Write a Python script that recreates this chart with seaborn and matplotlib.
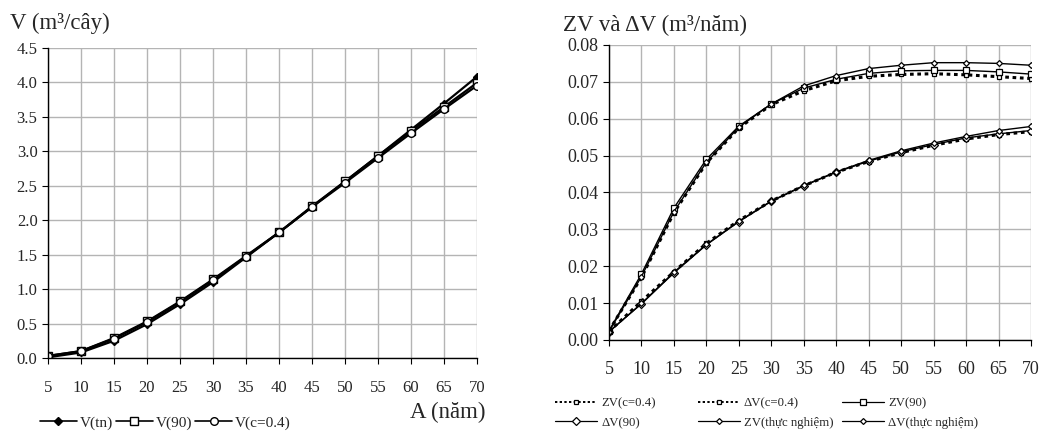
import numpy as np
import pandas as pd
import matplotlib
matplotlib.use("Agg")
import matplotlib.pyplot as plt
import seaborn as sns
from matplotlib.lines import Line2D

sns.set_theme(style="white")
plt.rcParams['font.family'] = ['Liberation Serif', 'DejaVu Serif']

# ---------------- data ----------------
ages = [5, 10, 15, 20, 25, 30, 35, 40, 45, 50, 55, 60, 65, 70]

v_tn = [0.01, 0.08, 0.25, 0.49, 0.78, 1.10, 1.46, 1.82, 2.19, 2.56, 2.93, 3.31, 3.69, 4.08]
v_90 = [0.03, 0.10, 0.29, 0.53, 0.82, 1.14, 1.48, 1.82, 2.20, 2.56, 2.93, 3.29, 3.64, 3.99]
v_c04 = [0.03, 0.10, 0.28, 0.52, 0.81, 1.13, 1.47, 1.82, 2.19, 2.54, 2.90, 3.26, 3.61, 3.95]

zv_c04 = [0.0025, 0.0170, 0.0345, 0.0480, 0.0575, 0.0638, 0.0676, 0.0703, 0.0715, 0.0720, 0.0722, 0.0719, 0.0714, 0.0709]
dv_c04 = [0.0023, 0.0105, 0.0185, 0.0262, 0.0324, 0.0377, 0.0418, 0.0455, 0.0484, 0.0508, 0.0528, 0.0545, 0.0557, 0.0565]
zv_90 = [0.0025, 0.0179, 0.0358, 0.0490, 0.0580, 0.0640, 0.0683, 0.0707, 0.0723, 0.0730, 0.0731, 0.0731, 0.0727, 0.0721]
dv_90 = [0.0023, 0.0098, 0.0182, 0.0258, 0.0321, 0.0376, 0.0418, 0.0455, 0.0485, 0.0510, 0.0530, 0.0548, 0.0559, 0.0568]
zv_tn = [0.0023, 0.0172, 0.0348, 0.0482, 0.0577, 0.0640, 0.0689, 0.0717, 0.0736, 0.0745, 0.0752, 0.0752, 0.0750, 0.0745]
dv_tn = [0.0022, 0.0099, 0.0184, 0.0259, 0.0322, 0.0377, 0.0419, 0.0456, 0.0487, 0.0513, 0.0534, 0.0552, 0.0568, 0.0579]

left_labels = ["V(tn)", "V(90)", "V(c=0.4)"]
right_labels = ["ZV(c=0.4)", "ΔV(c=0.4)", "ZV(90)", "ΔV(90)", "ZV(thực nghiệm)", "ΔV(thực nghiệm)"]

# ---------------- figure ----------------
fig = plt.figure(figsize=(10.43, 4.32), dpi=100)
axL = fig.add_axes([0.046, 0.1713, 0.4113, 0.7183])
axR = fig.add_axes([0.5839, 0.2130, 0.4046, 0.6829])

grid_c = "#b4b4b4"

def style_axis(ax):
    ax.grid(True, color=grid_c, linewidth=1.0)
    ax.set_axisbelow(True)
    for s in ["top", "right"]:
        ax.spines[s].set_visible(False)
    for s in ["left", "bottom"]:
        ax.spines[s].set_color("black")
        ax.spines[s].set_linewidth(1.0)
    ax.tick_params(axis="both", which="both", direction="out", length=4,
                   width=0.8, color="black", bottom=True, left=True)
    ax.set_xlabel("")
    ax.set_ylabel("")

# ---- left chart ----
left_series = [
    (v_tn, dict(marker="D", markersize=4.5, markerfacecolor="black", markeredgecolor="black")),
    (v_90, dict(marker="s", markersize=5.5, markerfacecolor="white", markeredgecolor="black")),
    (v_c04, dict(marker="o", markersize=5.5, markerfacecolor="white", markeredgecolor="black")),
]
for (vals, kw), lab in zip(left_series, left_labels):
    df = pd.DataFrame({"A": ages, "V": vals})
    sns.lineplot(data=df, x="A", y="V", ax=axL, color="black", linewidth=1.6,
                 markeredgewidth=1.0, legend=False, **kw)

axL.set_xlim(5, 70)
axL.set_ylim(0, 4.5)
axL.set_xticks(ages)
axL.set_xticklabels([str(a) for a in ages])
axL.set_yticks(np.arange(0, 4.51, 0.5))
axL.set_yticklabels([f"{v:.1f}" for v in np.arange(0, 4.51, 0.5)])
style_axis(axL)
axL.tick_params(axis="x", labelsize=12, pad=12)
axL.tick_params(axis="y", labelsize=12)

# ---- right chart ----
right_series = [
    (zv_c04, dict(linestyle=(0, (1.2, 1.2)), linewidth=2.2, marker="s", markersize=2.5,
                  markerfacecolor="white", markeredgecolor="black")),
    (dv_c04, dict(linestyle=(0, (1.2, 1.2)), linewidth=2.2, marker="s", markersize=2.5,
                  markerfacecolor="white", markeredgecolor="black")),
    (zv_90, dict(linestyle="-", linewidth=1.0, marker="s", markersize=5,
                 markerfacecolor="white", markeredgecolor="black")),
    (dv_90, dict(linestyle="-", linewidth=1.0, marker="D", markersize=4.5,
                 markerfacecolor="white", markeredgecolor="black")),
    (zv_tn, dict(linestyle="-", linewidth=1.0, marker="D", markersize=3,
                 markerfacecolor="white", markeredgecolor="black")),
    (dv_tn, dict(linestyle="-", linewidth=1.0, marker="D", markersize=3,
                 markerfacecolor="white", markeredgecolor="black")),
]
for (vals, kw), lab in zip(right_series, right_labels):
    df = pd.DataFrame({"A": ages, "Z": vals})
    sns.lineplot(data=df, x="A", y="Z", ax=axR, color="black",
                 markeredgewidth=0.9, legend=False, **kw)

axR.set_xlim(5, 70)
axR.set_ylim(0, 0.08)
axR.set_xticks(ages)
axR.set_xticklabels([str(a) for a in ages])
yt = np.arange(0, 0.0801, 0.01)
axR.set_yticks(yt)
axR.set_yticklabels([f"{v:.2f}" for v in yt])
style_axis(axR)
axR.tick_params(axis="x", labelsize=13, pad=11)
axR.tick_params(axis="y", labelsize=13)

# ---- titles / labels ----
fig.text(10 / 1043, 1 - 23 / 432, "V (m³/cây)", fontsize=16.5, ha="left", va="center")
fig.text(563 / 1043, 1 - 25 / 432, "ZV và ΔV (m³/năm)", fontsize=16.5, ha="left", va="center")
fig.text(410 / 1043, 1 - 412 / 432, "A (năm)", fontsize=16.5, ha="left", va="center")

# ---- legends ----
hL = []
for vals, kw in left_series:
    hL.append(Line2D([], [], color="black", linewidth=1.2, markeredgewidth=1.0, **kw))
fig.legend(hL, left_labels, loc="center left", bbox_to_anchor=(40 / 1043, 1 - 423 / 432),
           ncol=3, frameon=False, fontsize=11, handlelength=2.4, columnspacing=0.2,
           handletextpad=0.2, borderaxespad=0, borderpad=0)

hR = []
for vals, kw in right_series:
    kw2 = dict(kw)
    kw2["linewidth"] = 1.4 if kw2.get("linestyle") != "-" else 0.9
    hR.append(Line2D([], [], color="black", markeredgewidth=0.9, **kw2))

# Excel-style legend: 2 rows x 3 equal-width columns (row-wise order)
col_x = [555, 698, 842]
for c in range(3):
    idx = [c, c + 3]
    fig.legend([hR[i] for i in idx], [right_labels[i] for i in idx],
               loc="center left", bbox_to_anchor=(col_x[c] / 1043, 1 - 413 / 432),
               ncol=1, frameon=False, fontsize=9.2, handlelength=3.3,
               handletextpad=0.3, borderaxespad=0, borderpad=0, labelspacing=0.6)

fig.savefig("out.png", dpi=100)
